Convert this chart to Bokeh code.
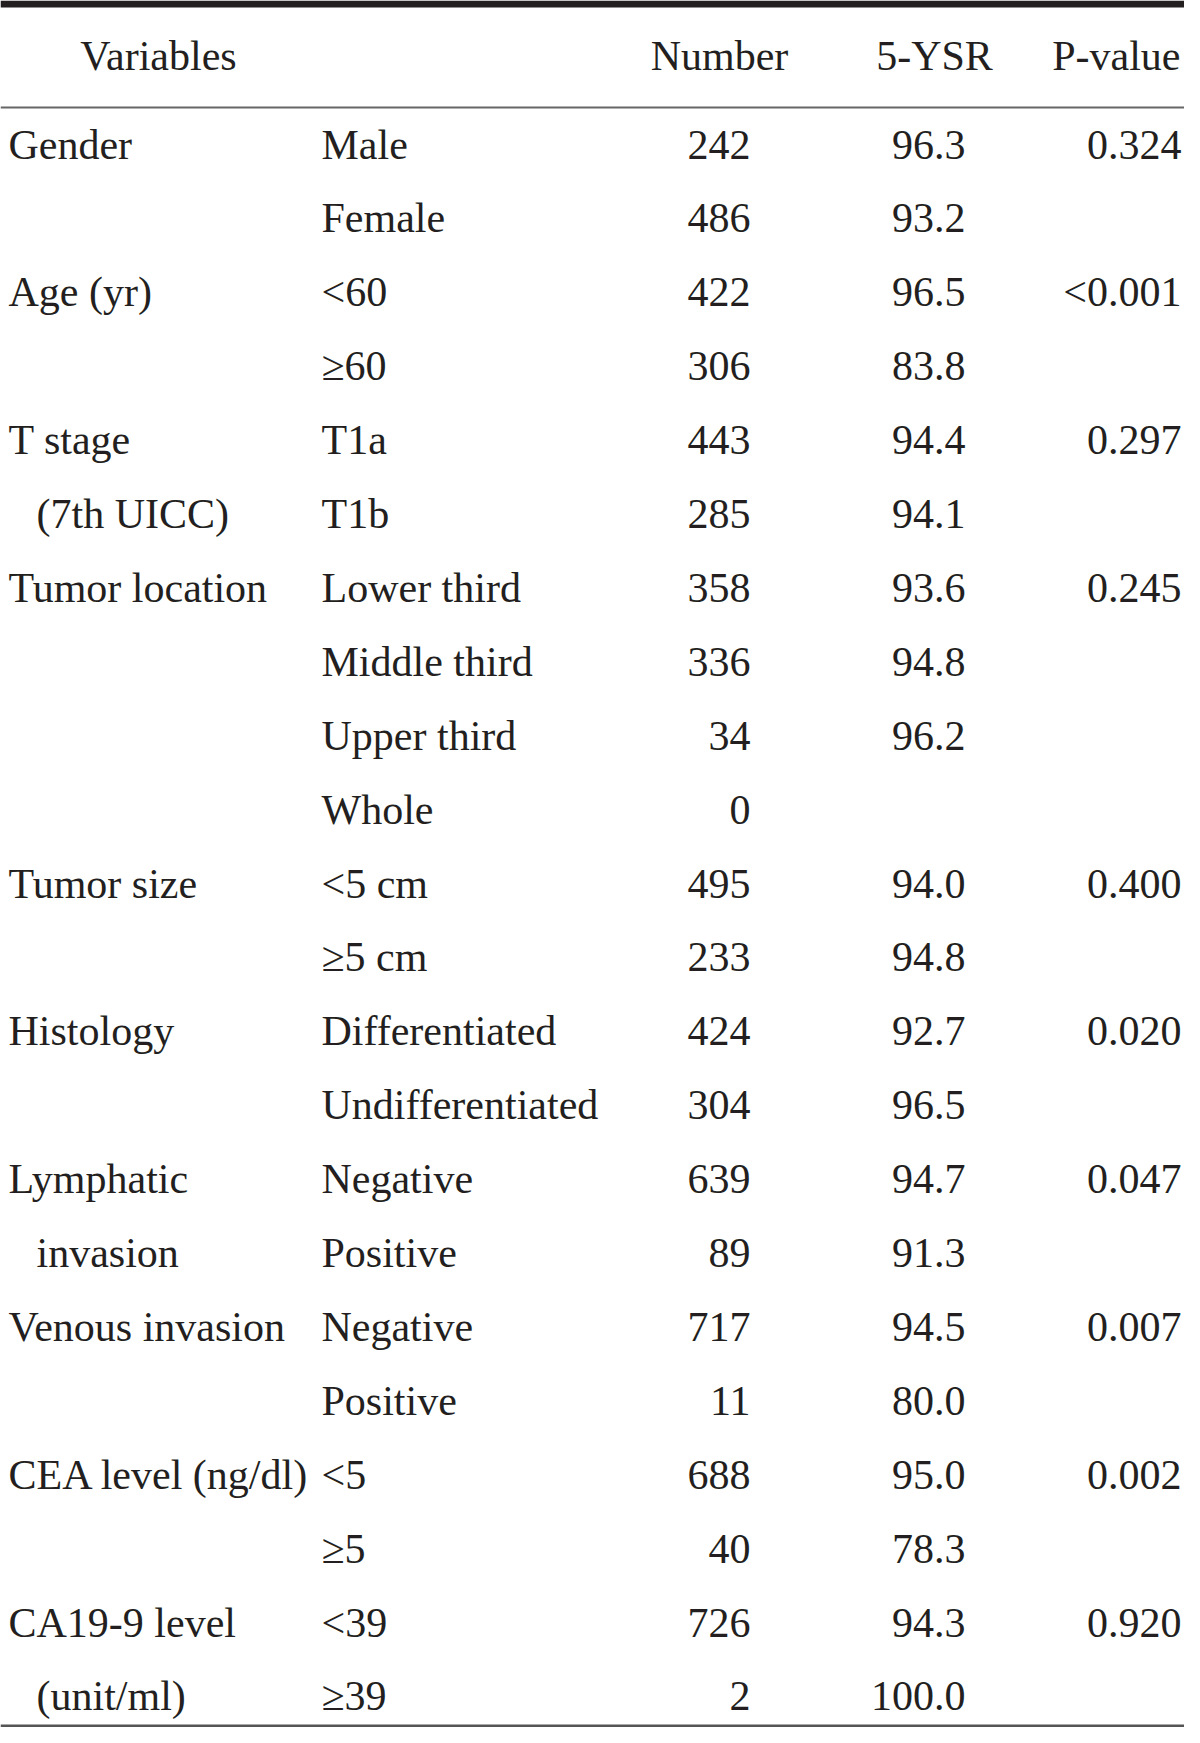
from bokeh.plotting import figure
from bokeh.models import ColumnDataSource
from bokeh.core.properties import value
from bokeh.embed import file_html
from bokeh.resources import INLINE

# ---- data ----
headers = ["Variables", "Number", "5-YSR", "P-value"]
variable_labels = [["Gender"], ["Age (yr)"], ["T stage", "(7th UICC)"], ["Tumor location"],
                   ["Tumor size"], ["Histology"], ["Lymphatic", "invasion"], ["Venous invasion"],
                   ["CEA level (ng/dl)"], ["CA19-9 level", "(unit/ml)"]]
group_sizes = [2, 2, 2, 4, 2, 2, 2, 2, 2, 2]
p_values = ["0.324", "<0.001", "0.297", "0.245", "0.400", "0.020", "0.047", "0.007", "0.002", "0.920"]
categories = ["Male", "Female", "<60", "≥60", "T1a", "T1b", "Lower third", "Middle third",
              "Upper third", "Whole", "<5 cm", "≥5 cm", "Differentiated", "Undifferentiated",
              "Negative", "Positive", "Negative", "Positive", "<5", "≥5", "<39", "≥39"]
numbers = [242, 486, 422, 306, 443, 285, 358, 336, 34, 0, 495, 233, 424, 304, 639, 89, 717, 11,
           688, 40, 726, 2]
ysr = ["96.3", "93.2", "96.5", "83.8", "94.4", "94.1", "93.6", "94.8", "96.2", "", "94.0", "94.8",
       "92.7", "96.5", "94.7", "91.3", "94.5", "80.0", "95.0", "78.3", "94.3", "100.0"]

# ---- layout (data coordinates == picture pixels) ----
FONT = value("Liberation Serif")
FS = "42px"
COLOR = "#231f20"
DY = -15
ROW0 = 159 + DY
STEP = 73.9
HEADER_BASE = 70 + DY

p = figure(width=1184, height=1727, x_range=(0, 1184), y_range=(1727, 0),
           output_backend="svg", toolbar_location=None, min_border=0)
p.axis.visible = False
p.grid.visible = False
p.outline_line_color = None
p.background_fill_color = "white"
p.border_fill_color = "white"

# rules
p.quad(left=[0], right=[1200], top=[0], bottom=[7], fill_color="#231f20", line_color=None)
p.segment(x0=[0], x1=[1200], y0=[107], y1=[107], line_color="#666666", line_width=2)
p.segment(x0=[0], x1=[1200], y0=[1725.5], y1=[1725.5], line_color="#555555", line_width=3)

def txt(xs, ys, texts, align):
    src = ColumnDataSource(dict(x=xs, y=ys, t=texts))
    p.text(x="x", y="y", text="t", source=src, text_font=FONT, text_font_size=FS,
           text_color=COLOR, text_align=align, text_baseline="alphabetic")

# header
txt([158, 719, 934], [HEADER_BASE] * 3, headers[:3], "center")
txt([1180], [HEADER_BASE], headers[3:], "right")

rows_y = [ROW0 + STEP * i for i in range(len(categories))]

# variable column
vx, vy, vt = [], [], []
start = 0
for labels, n in zip(variable_labels, group_sizes):
    for j, lab in enumerate(labels):
        vx.append(8 if j == 0 else 36)
        vy.append(rows_y[start + j])
        vt.append(lab)
    start += n
txt(vx, vy, vt, "left")

# p-values at first row of each group
py, start = [], 0
for n in group_sizes:
    py.append(rows_y[start])
    start += n
txt([1181] * len(p_values), py, p_values, "right")

txt([321] * len(categories), rows_y, categories, "left")
txt([750] * len(numbers), rows_y, [str(n) for n in numbers], "right")
txt([965] * len(ysr), rows_y, ysr, "right")

open("out.html", "w").write(file_html(p, INLINE))
